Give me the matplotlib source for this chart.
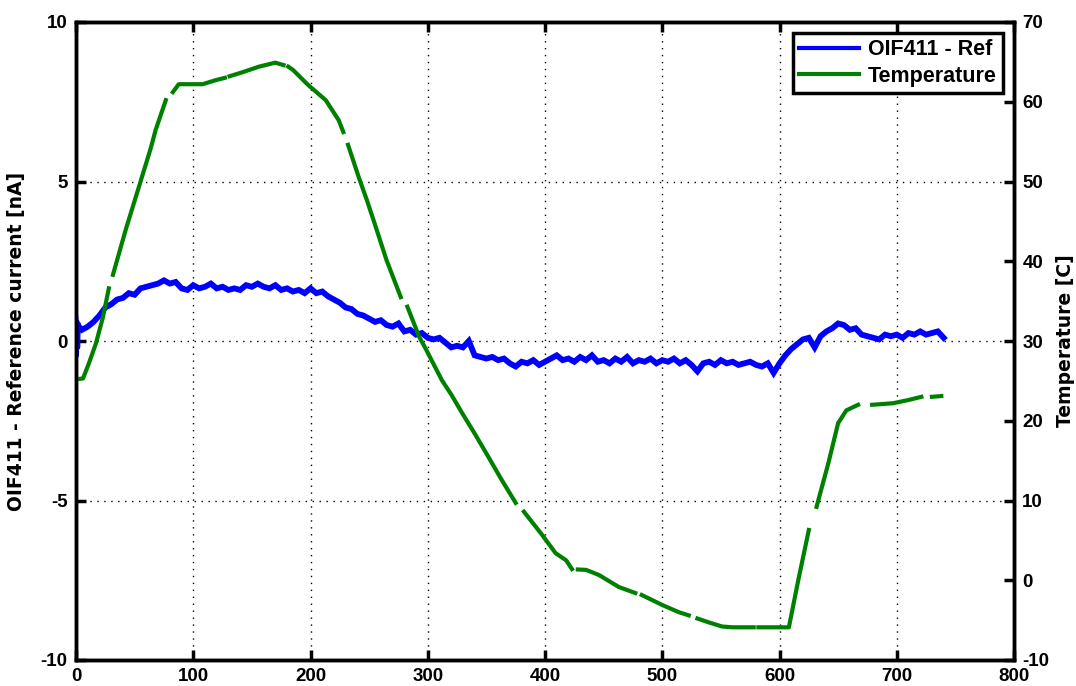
import numpy as np
import matplotlib
matplotlib.use("Agg")
import matplotlib.pyplot as plt

# ---------------- data ----------------
cur_t = np.arange(0, 745, 5)
cur_nA = [0.55, 0.35, 0.45, 0.6, 0.8, 1.05, 1.15, 1.3, 1.35, 1.5,
          1.45, 1.65, 1.7, 1.75, 1.8, 1.9, 1.8, 1.85, 1.65, 1.6,
          1.75, 1.65, 1.7, 1.8, 1.65, 1.7, 1.6, 1.65, 1.6, 1.75,
          1.7, 1.8, 1.7, 1.65, 1.75, 1.6, 1.65, 1.55, 1.6, 1.5,
          1.65, 1.5, 1.55, 1.4, 1.3, 1.2, 1.05, 1.0, 0.85, 0.8,
          0.7, 0.6, 0.65, 0.5, 0.45, 0.55, 0.3, 0.35, 0.2, 0.25,
          0.1, 0.05, 0.1, -0.05, -0.2, -0.15, -0.2, 0.0, -0.45, -0.5,
          -0.55, -0.5, -0.6, -0.55, -0.7, -0.8, -0.65, -0.7, -0.6, -0.75,
          -0.65, -0.55, -0.45, -0.6, -0.55, -0.65, -0.5, -0.6, -0.45, -0.65,
          -0.6, -0.7, -0.55, -0.65, -0.5, -0.7, -0.6, -0.65, -0.55, -0.7,
          -0.6, -0.65, -0.55, -0.7, -0.6, -0.75, -0.95, -0.7, -0.65, -0.75,
          -0.6, -0.7, -0.65, -0.75, -0.7, -0.65, -0.75, -0.8, -0.7, -1.0,
          -0.7, -0.45, -0.25, -0.1, 0.05, 0.1, -0.2, 0.15, 0.3, 0.4,
          0.55, 0.5, 0.35, 0.4, 0.2, 0.15, 0.1, 0.05, 0.2, 0.15,
          0.2, 0.1, 0.25, 0.2, 0.3, 0.2, 0.25, 0.3, 0.1]

# initial spike at start of record
spike_t = [0, 0.5, 1, 1.5, 2]
spike_nA = [0.7, -0.45, 0.6, -0.2, 0.5]

temp_t = [0, 6, 11, 17, 23, 28, 30, 31.5, 42.5, 53.6, 63.8, 68, 76.6, 79,
          82.6, 87.6, 98, 108, 119, 127, 129, 131, 142, 156, 170, 177, 179,
          181, 185, 198, 213, 224, 228, 230, 232, 241, 248, 255, 264.7, 277, 280,
          282.6, 292.8, 298.7, 312, 320, 330, 340, 350, 363, 375, 378,
          382, 397.5, 409, 418, 423, 425, 428, 435, 446, 463, 477, 478,
          482.5, 500, 514, 522.6, 527, 530, 540, 551, 560, 578, 580,
          582, 608, 616, 625, 628, 631.6, 641.7, 650, 657, 667, 676,
          679, 697, 710, 721, 727, 730, 738]
temp_C = [25.2, 25.3, 27.2, 29.7, 33.0, 36.6, np.nan, 38.3, 44.0, 49.3, 54.2, 56.5, 60.2, np.nan,
          61.2, 62.2, 62.2, 62.2, 62.7, 63.0, np.nan, 63.2, 63.7, 64.4, 64.9, 64.6, np.nan,
          64.4, 64.0, 62.1, 60.2, 57.7, 56.2, np.nan, 54.6, 50.6, 47.7, 44.6, 40.2, 35.5, np.nan,
          34.3, 30.5, 28.9, 25.1, 23.3, 20.8, 18.4, 15.9, 12.6, 9.7, np.nan,
          8.6, 5.7, 3.4, 2.5, 1.4, np.nan, 1.35, 1.3, 0.66, -0.85, -1.6, np.nan,
          -1.85, -3.1, -4.0, -4.4, np.nan, -4.8, -5.3, -5.8, -5.9, -5.9, np.nan,
          -5.9, -5.9, 0.0, 6.3, np.nan, 9.2, 14.7, 19.7, 21.3, 22.0, np.nan,
          22.0, 22.2, 22.6, 23.0, np.nan, 23.0, 23.1]

x_ticks = [0, 100, 200, 300, 400, 500, 600, 700, 800]
left_ticks = [-10, -5, 0, 5, 10]
right_ticks = [-10, 0, 10, 20, 30, 40, 50, 60, 70]

left_label = "OIF411 - Reference current [nA]"
right_label = "Temperature [C]"
series_names = ["OIF411 - Ref", "Temperature"]

# ---------------- plot ----------------
plt.rcParams['font.family'] = ['Liberation Sans', 'DejaVu Sans']
plt.rcParams['font.weight'] = 'bold'
plt.rcParams['axes.unicode_minus'] = False

fig = plt.figure(figsize=(10.76, 6.86), dpi=100)
ax = fig.add_axes([76/1076, 26/686, 938/1076, 638/686])
ax2 = ax.twinx()

ax.plot(spike_t, spike_nA, color='#0000FF', lw=3.5)
l1, = ax.plot(cur_t, cur_nA, color='#0000FF', lw=4.2, solid_joinstyle='miter')
l2, = ax2.plot(temp_t, temp_C, color='#008000', lw=3.0)

ax.set_xlim(0, 800)
ax.set_ylim(-10, 10)
ax2.set_ylim(-10, 70)
ax.set_xticks(x_ticks)
ax.set_yticks(left_ticks)
ax2.set_yticks(right_ticks)

ax.grid(True, linestyle=(0, (1, 4)), color='black', linewidth=1.0)

fs = 13.5
ax.tick_params(axis='both', direction='in', length=7, width=2.5, labelsize=fs,
               top=True, right=False, pad=6)
ax2.tick_params(axis='y', direction='in', length=7, width=2.5, labelsize=fs, pad=6)
for a in (ax, ax2):
    for s in a.spines.values():
        s.set_linewidth(2.5)
    for lab in a.get_xticklabels() + a.get_yticklabels():
        lab.set_fontweight('bold')

ax.set_ylabel(left_label, fontsize=13.5, fontweight='bold', family='DejaVu Sans')
ax2.set_ylabel(right_label, fontsize=13.5, fontweight='bold', family='DejaVu Sans')
ax.yaxis.set_label_coords(-0.053, 0.5)
ax2.yaxis.set_label_coords(1.045, 0.5)

leg = ax.legend([l1, l2], series_names, loc='upper right',
                prop={'weight': 'bold', 'size': 15.5},
                frameon=True, fancybox=False, borderpad=0.3,
                handlelength=2.8, handletextpad=0.4, labelspacing=0.25,
                borderaxespad=0.5)
leg.get_frame().set_edgecolor('black')
leg.get_frame().set_linewidth(2.5)
leg.get_frame().set_alpha(1)
for h in leg.get_lines():
    h.set_linewidth(3)

fig.savefig("out.png", dpi=100)
